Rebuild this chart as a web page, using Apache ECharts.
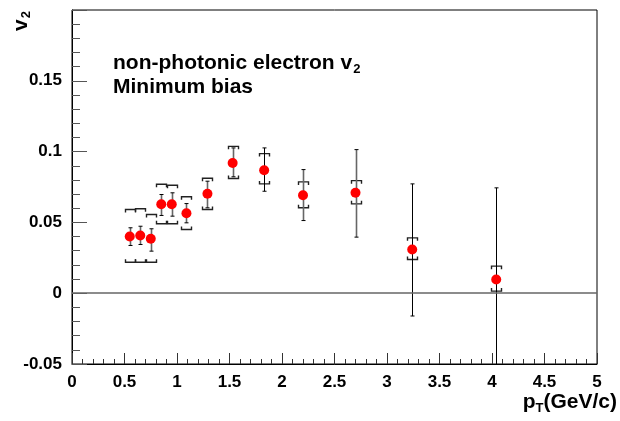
<!DOCTYPE html>
<html>
<head>
<meta charset="utf-8">
<script src="https://cdn.jsdelivr.net/npm/echarts@6/dist/echarts.min.js"></script>
<style>
  html, body { margin: 0; padding: 0; background: #fff; }
  #chart { width: 620px; height: 421px; }
</style>
</head>
<body>
<div id="chart"></div>
<script>
// pT bins and measured v2
const pt = [0.55, 0.65, 0.75, 0.85, 0.95, 1.09, 1.29, 1.53, 1.83, 2.2, 2.7, 3.24, 4.04];
const v2 = [0.0401, 0.0408, 0.0384, 0.0628, 0.0628, 0.0565, 0.0702, 0.0920, 0.0868, 0.0692, 0.0709, 0.0309, 0.0097];
// statistical error bar ends
const statHi = [0.0462, 0.0473, 0.0455, 0.0697, 0.0709, 0.0633, 0.0791, 0.1026, 0.1026, 0.0873, 0.1014, 0.0772, 0.0744];
const statLo = [0.0337, 0.0344, 0.0297, 0.0549, 0.0544, 0.0497, 0.0603, 0.0822, 0.0720, 0.0513, 0.0396, -0.0161, -0.055];
// systematic bracket ends
const sysHi = [0.0591, 0.0596, 0.0556, 0.0769, 0.0762, 0.0681, 0.0812, 0.1037, 0.0986, 0.0786, 0.0795, 0.0391, 0.0191];
const sysLo = [0.0219, 0.0219, 0.0219, 0.0490, 0.0490, 0.0450, 0.0591, 0.0810, 0.0772, 0.0603, 0.0631, 0.0238, 0.0015];

const xTicks = [0, 0.5, 1, 1.5, 2, 2.5, 3, 3.5, 4, 4.5, 5];

const font = 'Liberation Sans, Arial, Helvetica, sans-serif';
const darkBars = [8, 11, 12]; // bars drawn in black, others grey

const chart = echarts.init(document.getElementById('chart'));

function statItem(params, api) {
  const x = api.value(0);
  const top = api.coord([x, api.value(2)]);
  const bot = api.coord([x, api.value(1)]);
  const dark = darkBars.indexOf(params.dataIndex) >= 0;
  const style = { stroke: dark ? '#000' : '#666', lineWidth: dark ? 1 : 1.6 };
  const cx = Math.round(top[0]) + 0.5;
  return {
    type: 'group',
    children: [
      { type: 'line', shape: { x1: cx, y1: top[1], x2: cx, y2: bot[1] }, style },
      { type: 'line', shape: { x1: cx - 2, y1: top[1], x2: cx + 2, y2: top[1] }, style: { stroke: '#000', lineWidth: 1 } },
      { type: 'line', shape: { x1: cx - 2, y1: bot[1], x2: cx + 2, y2: bot[1] }, style: { stroke: '#000', lineWidth: 1 } }
    ]
  };
}

function sysItem(params, api) {
  const x = api.value(0);
  const top = api.coord([x, api.value(2)]);
  const bot = api.coord([x, api.value(1)]);
  const cx = Math.round(top[0]) + 0.5;
  const w = 5, h = 3;
  const style = { stroke: '#222', lineWidth: 1.4, fill: null };
  return {
    type: 'group',
    children: [
      { type: 'polyline', shape: { points: [[cx - w, top[1] + h], [cx - w, top[1]], [cx + w, top[1]], [cx + w, top[1] + h]] }, style },
      { type: 'polyline', shape: { points: [[cx - w, bot[1] - h], [cx - w, bot[1]], [cx + w, bot[1]], [cx + w, bot[1] - h]] }, style }
    ]
  };
}

const option = {
  animation: false,
  backgroundColor: '#fff',
  grid: {
    left: 72, top: 10, right: 23, bottom: 57,
    show: true, borderColor: '#000', borderWidth: 1
  },
  xAxis: {
    type: 'value',
    min: 0, max: 5, interval: 0.5,
    axisLine: { onZero: false, lineStyle: { color: '#000', width: 1 } },
    axisTick: { inside: true, length: 11, lineStyle: { color: '#333' } },
    minorTick: { show: true, splitNumber: 5, length: 5, lineStyle: { color: '#333' } },
    splitLine: { show: false },
    axisLabel: {
      margin: 10, color: '#000', fontFamily: font, fontWeight: 'bold', fontSize: 17,
      formatter: v => (xTicks.indexOf(+v.toFixed(2)) >= 0 ? String(+v.toFixed(2)) : '')
    }
  },
  yAxis: {
    type: 'value',
    min: -0.05, max: 0.2, interval: 0.05,
    axisLine: { onZero: false, lineStyle: { color: '#000', width: 1 } },
    axisTick: { inside: true, length: 15, lineStyle: { color: '#555' } },
    minorTick: { show: true, splitNumber: 5, length: 8, lineStyle: { color: '#555' } },
    splitLine: { show: false },
    axisLabel: {
      margin: 10, color: '#000', fontFamily: font, fontWeight: 'bold', fontSize: 17,
      formatter: v => (v > 0.19 ? '' : String(+v.toFixed(2)))
    }
  },
  graphic: [
    {
      type: 'text', left: 113, top: 53,
      style: {
        text: '{a|non-photonic electron v}{s|2}',
        rich: {
          a: { fontFamily: font, fontWeight: 'bold', fontSize: 21, fill: '#000' },
          s: { fontFamily: font, fontWeight: 'bold', fontSize: 13, fill: '#000', padding: [11, 0, 0, 1] }
        }
      }
    },
    {
      type: 'text', left: 113, top: 77,
      style: { text: 'Minimum bias', fontFamily: font, fontWeight: 'bold', fontSize: 21, fill: '#000' }
    },
    {
      type: 'text', x: 21, y: 11, rotation: Math.PI / 2,
      style: {
        text: '{a|v}{s|2}', align: 'right', verticalAlign: 'middle',
        rich: {
          a: { fontFamily: font, fontWeight: 'bold', fontSize: 21, fill: '#000' },
          s: { fontFamily: font, fontWeight: 'bold', fontSize: 13, fill: '#000', padding: [11, 0, 0, 1] }
        }
      }
    },
    {
      type: 'text', right: 3, top: 392,
      style: {
        text: '{a|p}{s|T}{a|(GeV/c)}',
        rich: {
          a: { fontFamily: font, fontWeight: 'bold', fontSize: 21, fill: '#000' },
          s: { fontFamily: font, fontWeight: 'bold', fontSize: 13, fill: '#000', padding: [12, 0, 0, 0] }
        }
      }
    }
  ],
  series: [
    {
      type: 'custom',
      clip: true,
      renderItem: sysItem,
      data: pt.map((x, i) => [x, sysLo[i], sysHi[i]]),
      z: 2
    },
    {
      type: 'custom',
      clip: true,
      renderItem: statItem,
      data: pt.map((x, i) => [x, statLo[i], statHi[i]]),
      z: 3
    },
    {
      type: 'scatter',
      symbol: 'circle',
      symbolSize: 10,
      itemStyle: { color: '#ff0000', opacity: 1 },
      data: pt.map((x, i) => [x, v2[i]]),
      z: 4,
      markLine: {
        silent: true,
        symbol: 'none',
        label: { show: false },
        lineStyle: { color: '#666', width: 1.5, type: 'solid' },
        data: [{ yAxis: 0 }]
      }
    }
  ]
};

chart.setOption(option);
</script>
</body>
</html>
